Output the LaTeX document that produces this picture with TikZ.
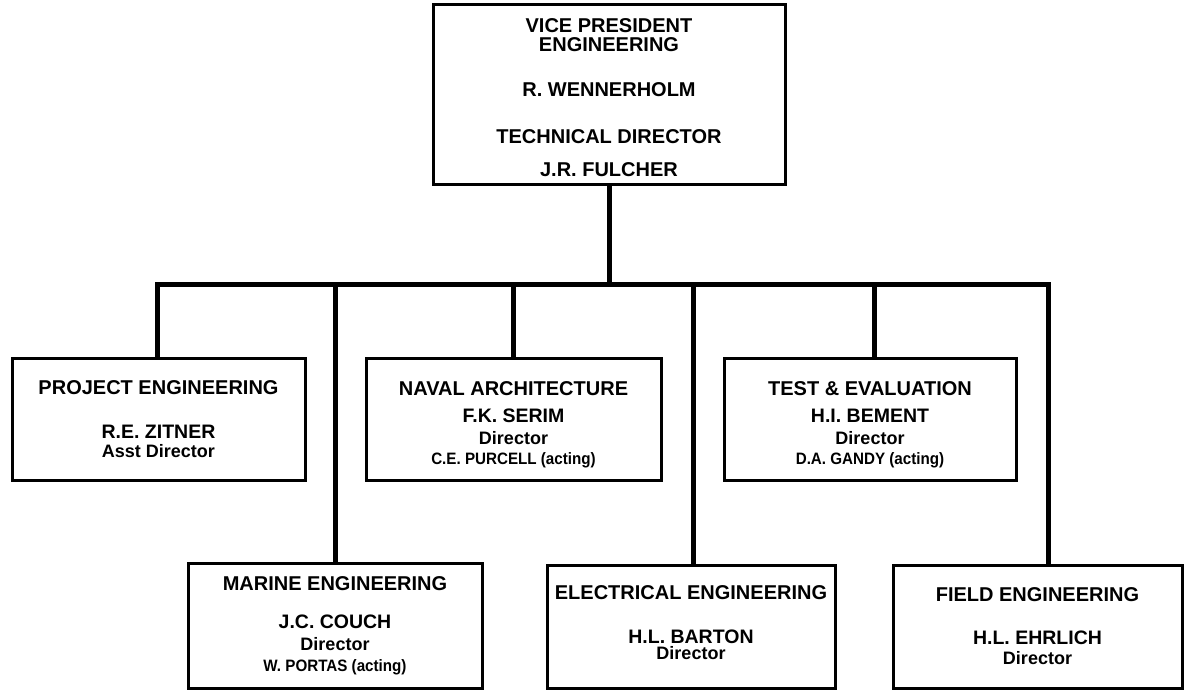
\documentclass[tikz,border=0pt]{standalone}
\usepackage{fontspec}
\setmainfont{Liberation Sans}
\newfontfamily\narrowfont[FakeStretch=0.92]{Liberation Sans}
\newcommand\boxtitle{\fontsize{20}{19}\selectfont\bfseries}
\newcommand\boxname{\fontsize{19.5}{19}\selectfont\bfseries}
\newcommand\boxrole{\fontsize{18}{19}\selectfont\bfseries}
\newcommand\boxacting{\narrowfont\fontsize{16.5}{19}\selectfont\bfseries}
\begin{document}
\begin{tikzpicture}[x=1pt,y=-1pt,
  box/.style={draw, line width=3pt, inner sep=0pt, align=center,
    font={\fontsize{19}{19}\selectfont\bfseries}},
  boxtext/.style={inner sep=0pt, align=center,
    font={\fontsize{19}{19}\selectfont\bfseries}},
  conn/.style={line width=5pt}]
\useasboundingbox (0,0) rectangle (1195,690);

\node[box, minimum width=352pt, minimum height=180pt] (top) at (609,95) {};
\node[boxtext] (toptext) at ([yshift=-3pt]top.center)
  {\boxtitle VICE PRESIDENT\\\boxtitle ENGINEERING\\[26pt]
   \boxtitle R. WENNERHOLM\\[28pt]
   \boxtitle TECHNICAL DIRECTOR\\[14pt]
   \boxtitle J.R. FULCHER};

\node[box, minimum width=293pt, minimum height=122pt] (proj) at (158.5,419)
  {\boxtitle PROJECT ENGINEERING\\[25pt]
   \boxname R.E. ZITNER\\
   \boxrole Asst Director};

\node[box, minimum width=295pt, minimum height=122pt] (naval) at (513.5,419) {};
\node[boxtext] (navaltext) at ([yshift=-6pt]naval.center)
  {\boxtitle NAVAL ARCHITECTURE\\[8pt]
   \boxname F.K. SERIM\\[3pt]
   \boxrole Director\\[1pt]
   \boxacting C.E. PURCELL (acting)};

\node[box, minimum width=292pt, minimum height=122pt] (test) at (870,419) {};
\node[boxtext] (testtext) at ([yshift=-6pt]test.center)
  {\boxtitle TEST \& EVALUATION\\[8pt]
   \boxname H.I. BEMENT\\[3pt]
   \boxrole Director\\[1pt]
   \boxacting D.A. GANDY (acting)};

\node[box, minimum width=294pt, minimum height=125pt] (marine) at (335,625.5)
  {\boxtitle MARINE ENGINEERING\\[19pt]
   \boxname J.C. COUCH\\[3pt]
   \boxrole Director\\[2pt]
   \boxacting W. PORTAS (acting)};

\node[box, minimum width=288pt, minimum height=123pt] (elec) at (691,626.5) {};
\node[boxtext] (electext) at ([yshift=3.5pt]elec.center)
  {\boxtitle ELECTRICAL ENGINEERING\\[25pt]
   \boxname H.L. BARTON\\[-3pt]
   \boxrole Director};

\node[box, minimum width=289pt, minimum height=123pt] (field) at (1037.5,626.5)
  {\boxtitle FIELD ENGINEERING\\[24pt]
   \boxname H.L. EHRLICH\\[1pt]
   \boxrole Director};

\coordinate (bus) at (609,284);

\draw[conn] (top.south) -- (bus);
\draw[conn] ([xshift=-1.5pt]proj.north) |- (bus) -| ([xshift=10.5pt]field.north);
\draw[conn] (marine.north) -- (marine.north |- bus);
\draw[conn] (naval.north) -- (naval.north |- bus);
\draw[conn] ([xshift=2pt]elec.north) -- ([xshift=2pt]elec.north |- bus);
\draw[conn] ([xshift=4pt]test.north) -- ([xshift=4pt]test.north |- bus);
\end{tikzpicture}
\end{document}
